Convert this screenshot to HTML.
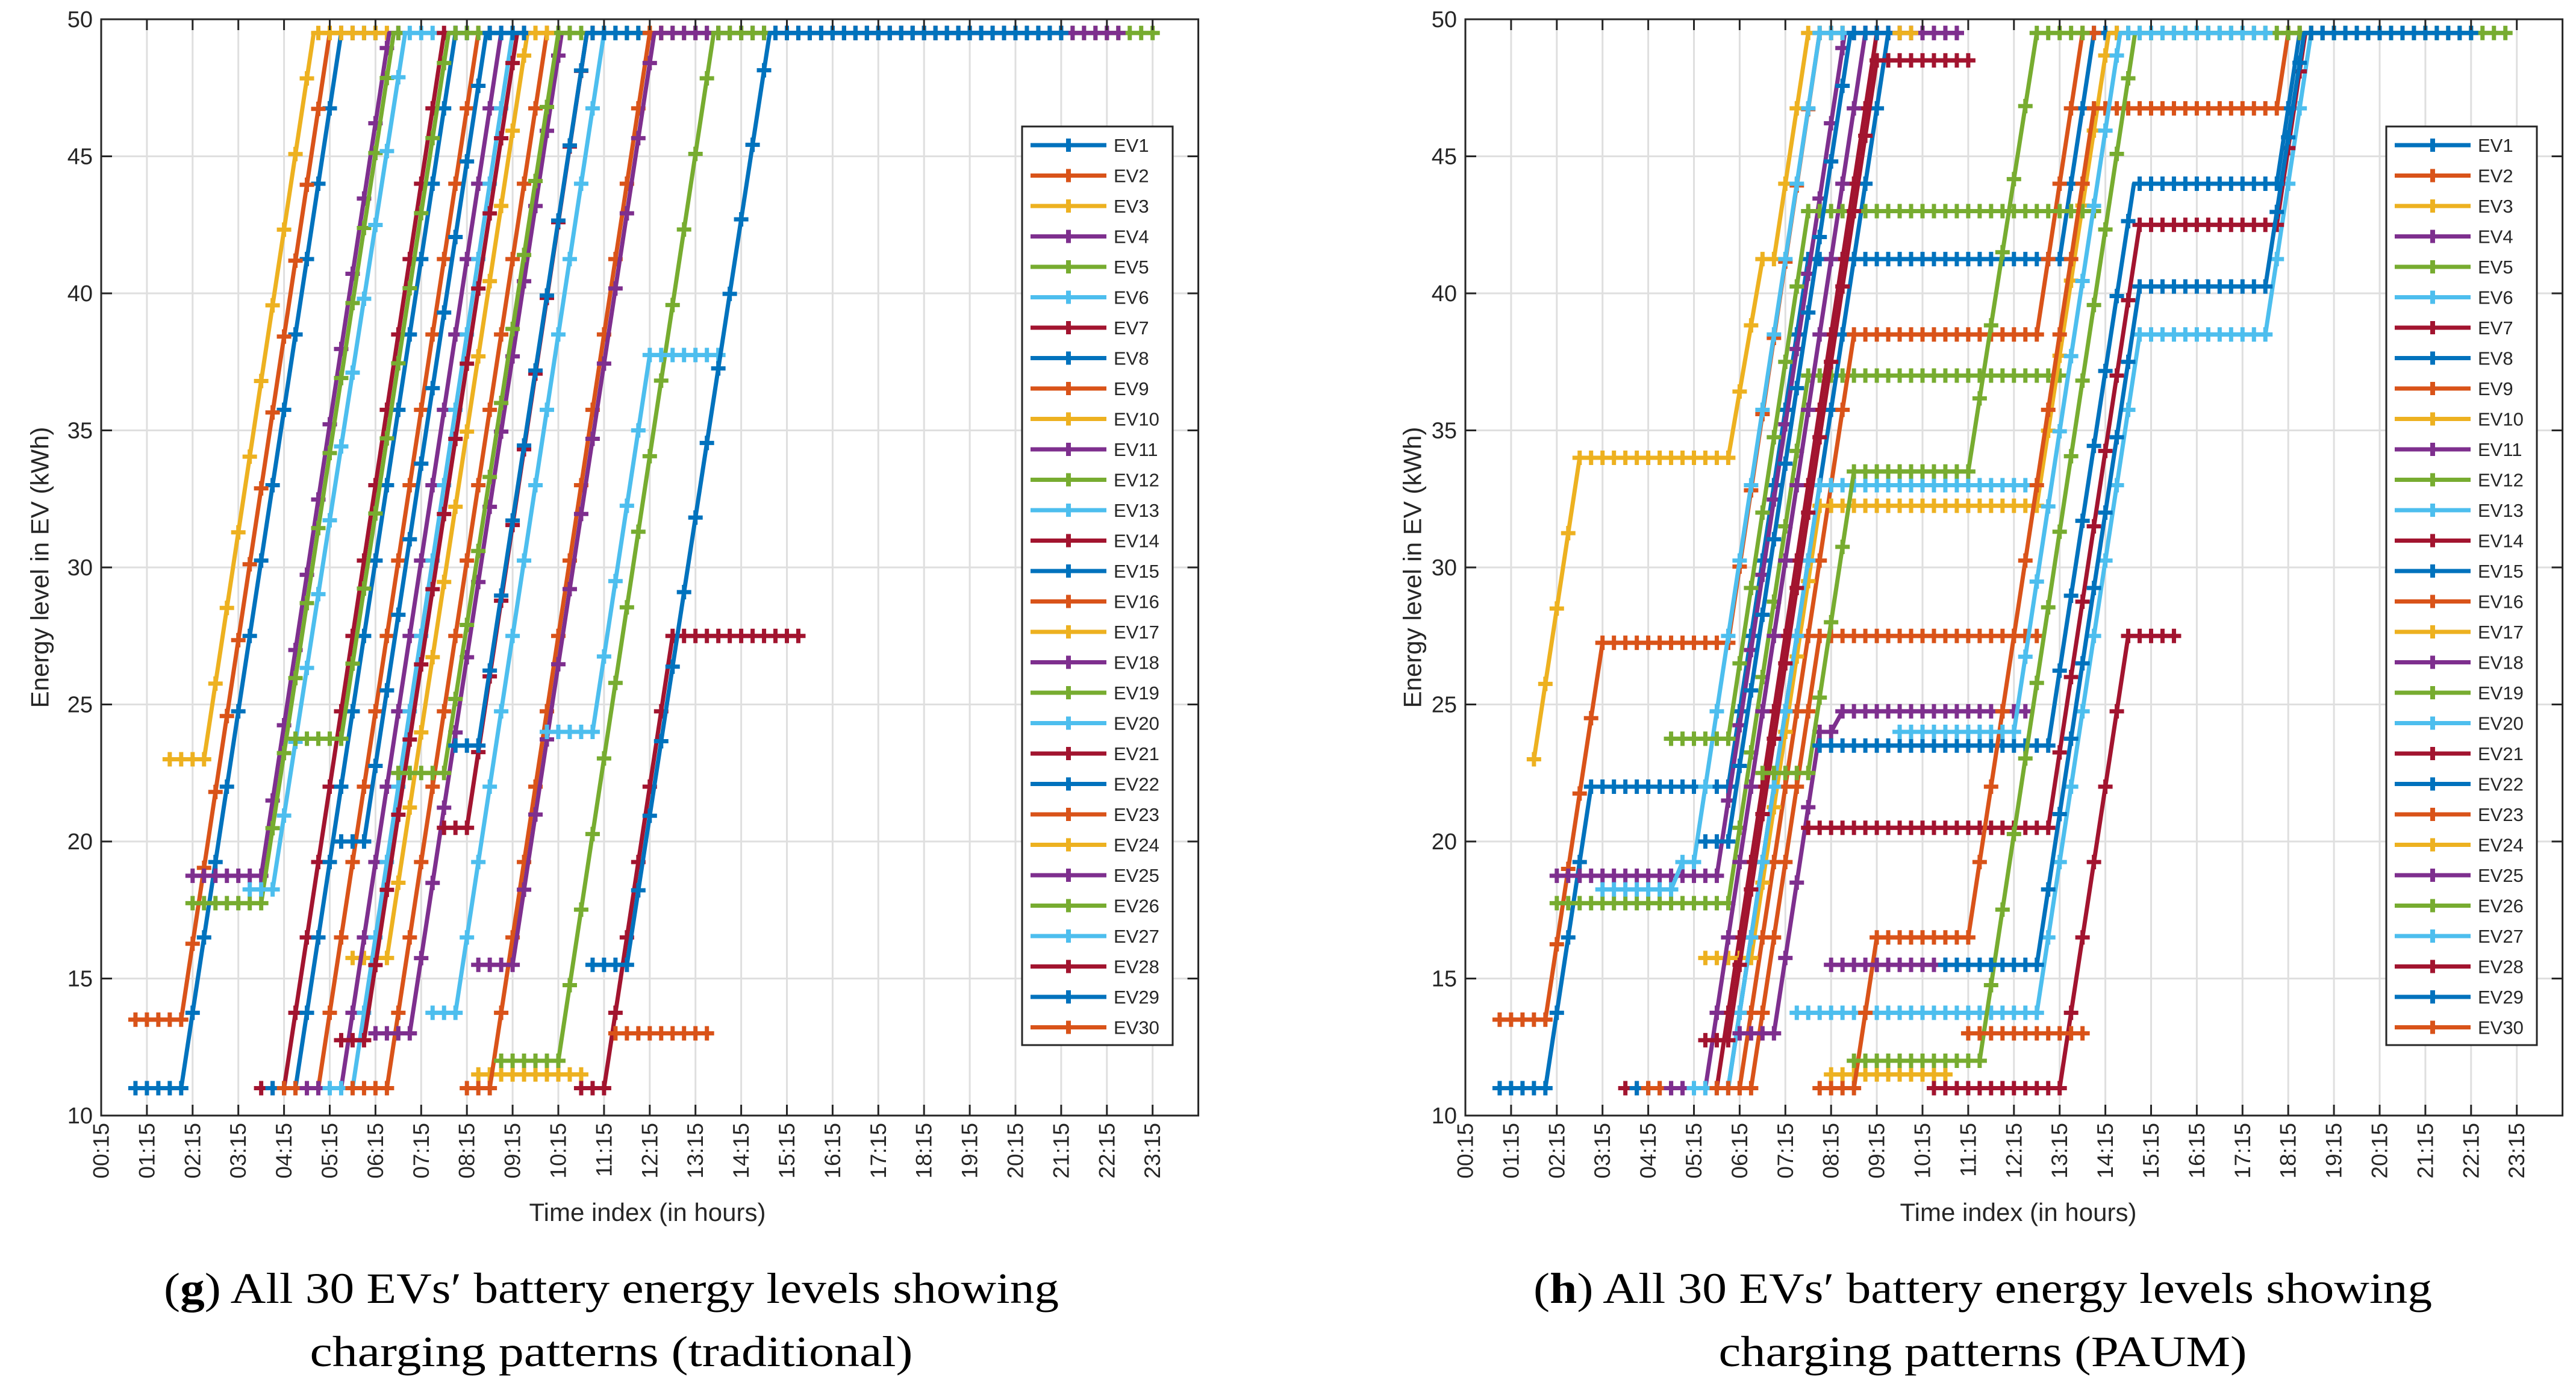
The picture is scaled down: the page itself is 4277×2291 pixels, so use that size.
<!DOCTYPE html>
<html><head><meta charset="utf-8"><style>
html,body{margin:0;padding:0;background:#fff;}
svg{display:block;}
text{font-family:"Liberation Sans",sans-serif;fill:#262626;}
.cap{font-family:"Liberation Serif",serif;fill:#000;}
</style></head><body>
<svg id="root" width="4277" height="2291" viewBox="0 0 4277 2291" xmlns="http://www.w3.org/2000/svg">
<rect width="4277" height="2291" fill="#fff"/>
<g id="plotL"></g>
<g id="plotR"></g>
<text class="cap" x="1015" y="2163" font-size="72" text-anchor="middle" textLength="1486" lengthAdjust="spacingAndGlyphs">(<tspan font-weight="bold">g</tspan>) All 30 EVs′ battery energy levels showing</text>
<text class="cap" x="1015" y="2268" font-size="72" text-anchor="middle" textLength="1001" lengthAdjust="spacingAndGlyphs">charging patterns (traditional)</text>
<text class="cap" x="3292" y="2163" font-size="72" text-anchor="middle" textLength="1492" lengthAdjust="spacingAndGlyphs">(<tspan font-weight="bold">h</tspan>) All 30 EVs′ battery energy levels showing</text>
<text class="cap" x="3292" y="2268" font-size="72" text-anchor="middle" textLength="877" lengthAdjust="spacingAndGlyphs">charging patterns (PAUM)</text>
</svg>
<script>
// x values are quarter-hour indices counted from 00:15; y values are kWh
const timeTickLabels = ["00:15","01:15","02:15","03:15","04:15","05:15","06:15","07:15","08:15","09:15","10:15","11:15","12:15","13:15","14:15","15:15","16:15","17:15","18:15","19:15","20:15","21:15","22:15","23:15"];
const energyTicks = [10,15,20,25,30,35,40,45,50];
const evLabels = ["EV1","EV2","EV3","EV4","EV5","EV6","EV7","EV8","EV9","EV10","EV11","EV12","EV13","EV14","EV15","EV16","EV17","EV18","EV19","EV20","EV21","EV22","EV23","EV24","EV25","EV26","EV27","EV28","EV29","EV30"];
const seriesColors = ["#0072BD","#D95319","#EDB120","#7E2F8E","#77AC30","#4DBEEE","#A2142F"];

// Traditional charging (breakpoints [quarter-hour, kWh])
const trad_EV1 = [[3,11],[7,11],[21,49.5],[24,49.5]];
const trad_EV2 = [[3,13.5],[7,13.5],[20,49.5],[22,49.5]];
const trad_EV3 = [[6,23],[9,23],[18.6,49.5],[25,49.5]];
const trad_EV4 = [[8,18.75],[14,18.75],[25.2,49.5],[26,49.5]];
const trad_EV5 = [[8,17.75],[14,17.75],[25.6,49.5],[26,49.5]];
const trad_EV6 = [[13,18.25],[15,18.25],[26.6,49.5],[29,49.5]];
const trad_EV7 = [[14,11],[16,11],[30,49.5],[31,49.5]];
const trad_EV8 = [[15,11],[17,11],[31,49.5],[32,49.5]];
const trad_EV9 = [[16,11],[19,11],[33,49.5],[34,49.5]];
const trad_EV10 = [[22,15.75],[25,15.75],[37.3,49.5],[39,49.5]];
const trad_EV11 = [[18,11],[21,11],[35,49.5],[36,49.5]];
const trad_EV12 = [[17,23.75],[21,23.75],[30.4,49.5],[33,49.5]];
const trad_EV13 = [[20,11],[22,11],[36,49.5],[37,49.5]];
const trad_EV14 = [[21,12.75],[23,12.75],[36.4,49.5],[37,49.5]];
const trad_EV15 = [[21,20],[23,20],[33.7,49.5],[37,49.5]];
const trad_EV16 = [[22,11],[25,11],[39,49.5],[40,49.5]];
const trad_EV17 = [[33,11.5],[42,11.5]];
const trad_EV18 = [[24,13],[27,13],[40.3,49.5],[41,49.5]];
const trad_EV19 = [[26,22.5],[30,22.5],[40,49.5],[92,49.5]];
const trad_EV20 = [[29,13.75],[31,13.75],[44,49.5],[45,49.5]];
const trad_EV21 = [[30,20.5],[32,20.5],[42.5,49.5],[43,49.5]];
const trad_EV22 = [[31,23.5],[33,23.5],[42.5,49.5],[47,49.5]];
const trad_EV23 = [[32,11],[34,11],[48,49.5],[49,49.5]];
const trad_EV24 = [[38,49.5],[39,49.5]];
const trad_EV25 = [[33,15.5],[36,15.5],[48.4,49.5],[89,49.5]];
const trad_EV26 = [[35,12],[40,12],[53.6,49.5],[58,49.5]];
const trad_EV27 = [[39,24],[43,24],[48,37.75],[54,37.75]];
const trad_EV28 = [[42,11],[44,11],[50,27.5],[61,27.5]];
const trad_EV29 = [[43,15.5],[46,15.5],[58.5,49.5],[84,49.5]];
const trad_EV30 = [[45,13],[53,13]];

// PAUM charging
const paum_EV1 = [[3,11],[7,11],[11,22],[23,22],[30,41.25],[52,41.25],[55,49.5],[58,49.5]];
const paum_EV2 = [[3,13.5],[7,13.5],[12,27.25],[23,27.25],[31,49.5],[33,49.5]];
const paum_EV3 = [[6,23],[10,34],[23,34],[26,41.25],[27,41.25],[30,49.5],[33,49.5]];
const paum_EV4 = [[8,18.75],[22,18.75],[33.2,49.5],[43,49.5]];
const paum_EV5 = [[8,17.75],[23,17.75],[30,37],[52,37]];
const paum_EV6 = [[12,18.25],[18,18.25],[19,19.25],[20,19.25],[31,49.5],[33,49.5]];
const paum_EV7 = [[14,11],[22,11],[36,49.5],[37,49.5]];
const paum_EV8 = [[15,11],[23,11],[37,49.5],[38,49.5]];
const paum_EV9 = [[16,11],[24,11],[34,38.5],[50,38.5],[54,49.5],[55,49.5]];
const paum_EV10 = [[21,15.75],[25,15.75],[31,32.25],[50,32.25],[56.3,49.5],[63,49.5]];
const paum_EV11 = [[18,11],[21,11],[35,49.5],[43,49.5]];
const paum_EV12 = [[18,23.75],[23,23.75],[30,43],[55,43]];
const paum_EV13 = [[20,11],[23,11],[31,33],[49,33]];
const paum_EV14 = [[21,12.75],[23,12.75],[36,48.5],[44,48.5]];
const paum_EV15 = [[21,20],[23,20],[33.7,49.5],[37,49.5]];
const paum_EV16 = [[22,11],[25,11],[31,27.5],[50,27.5]];
const paum_EV17 = [[32,11.5],[42,11.5]];
const paum_EV18 = [[24,13],[27,13],[31,24],[32,24],[33,24.75],[49,24.75]];
const paum_EV19 = [[26,22.5],[30,22.5],[34,33.5],[44,33.5],[50,49.5],[54,49.5]];
const paum_EV20 = [[29,13.75],[50,13.75],[59,38.5],[70,38.5],[74,49.5],[76,49.5]];
const paum_EV21 = [[30,20.5],[51,20.5],[59,42.5],[71,42.5],[73.5,49.5],[75,49.5]];
const paum_EV22 = [[31,23.5],[51,23.5],[58.5,44],[71,44],[73,49.5],[75,49.5]];
const paum_EV23 = [[31,11],[34,11],[36,16.5],[44,16.5],[55,46.75],[71,46.75],[72,49.5],[74,49.5]];
const paum_EV24 = [[38,49.5],[39,49.5]];
const paum_EV25 = [[32,15.5],[42,15.5]];
const paum_EV26 = [[34,12],[45,12],[58.6,49.5],[91,49.5]];
const paum_EV27 = [[38,24],[48,24],[57.3,49.5],[70,49.5]];
const paum_EV28 = [[41,11],[52,11],[58,27.5],[62,27.5]];
const paum_EV29 = [[42,15.5],[50,15.5],[59,40.25],[70,40.25],[73.4,49.5],[88,49.5]];
const paum_EV30 = [[44,13],[54,13]];

const tradSeries = [trad_EV1,trad_EV2,trad_EV3,trad_EV4,trad_EV5,trad_EV6,trad_EV7,trad_EV8,trad_EV9,trad_EV10,trad_EV11,trad_EV12,trad_EV13,trad_EV14,trad_EV15,trad_EV16,trad_EV17,trad_EV18,trad_EV19,trad_EV20,trad_EV21,trad_EV22,trad_EV23,trad_EV24,trad_EV25,trad_EV26,trad_EV27,trad_EV28,trad_EV29,trad_EV30];
const paumSeries = [paum_EV1,paum_EV2,paum_EV3,paum_EV4,paum_EV5,paum_EV6,paum_EV7,paum_EV8,paum_EV9,paum_EV10,paum_EV11,paum_EV12,paum_EV13,paum_EV14,paum_EV15,paum_EV16,paum_EV17,paum_EV18,paum_EV19,paum_EV20,paum_EV21,paum_EV22,paum_EV23,paum_EV24,paum_EV25,paum_EV26,paum_EV27,paum_EV28,paum_EV29,paum_EV30];

const NS = "http://www.w3.org/2000/svg";
function mk(tag, attrs, parent) {
  const el = document.createElementNS(NS, tag);
  for (const k in attrs) el.setAttribute(k, attrs[k]);
  parent.appendChild(el);
  return el;
}

function drawPlot(g, left, series, prefix, ytitleX, xtitleX) {
  const right = left + 24 * 75.9, top = 32, bottom = 1852;
  const xs = q => left + q * 75.9 / 4;
  const ys = e => bottom - (e - 10) * (bottom - top) / 40;
  // grid
  for (let k = 1; k < 24; k++) {
    const l = mk("line", {x1: xs(k*4), x2: xs(k*4), y1: top, y2: bottom, stroke: "#dfdfdf", "stroke-width": 3}, g);
    
    
  }
  energyTicks.forEach(v => {
    if (v === 10 || v === 50) return;
    const l = mk("line", {x1: left, x2: right, y1: ys(v), y2: ys(v), stroke: "#dfdfdf", "stroke-width": 3}, g);
    
    
  });
  // series
  series.forEach((pts, i) => {
    const color = seriesColors[i % 7];
    const sg = mk("g", {}, g);
    
    
    const p = mk("polyline", {points: pts.map(d => xs(d[0]) + "," + ys(d[1])).join(" "), fill: "none", stroke: color, "stroke-width": 7, "stroke-linejoin": "round"}, sg);
    
    
    const q0 = Math.ceil(pts[0][0] - 1e-6), q1 = Math.floor(pts[pts.length - 1][0] + 1e-6);
    let d = "";
    for (let q = q0; q <= q1; q++) {
      let e = pts[pts.length - 1][1];
      for (let j = 0; j < pts.length - 1; j++) {
        if (q >= pts[j][0] && q <= pts[j + 1][0]) {
          const t = (q - pts[j][0]) / ((pts[j + 1][0] - pts[j][0]) || 1);
          e = pts[j][1] + t * (pts[j + 1][1] - pts[j][1]);
          break;
        }
      }
      const cx = xs(q), cy = ys(e);
      d += "M" + (cx - 12) + " " + cy + "H" + (cx + 12) + "M" + cx + " " + (cy - 12) + "V" + (cy + 12);
    }
    const m = mk("path", {d: d, stroke: color, "stroke-width": 7, fill: "none"}, sg);
    
    
  });
  // axes box
  const box = mk("rect", {x: left, y: top, width: right - left, height: bottom - top, fill: "none", stroke: "#262626", "stroke-width": 3}, g);
  
  
  timeTickLabels.forEach((lab, k) => {
    const x = xs(k * 4);
    mk("line", {x1: x, x2: x, y1: bottom, y2: bottom - 18, stroke: "#262626", "stroke-width": 3}, g);
    mk("line", {x1: x, x2: x, y1: top, y2: top + 18, stroke: "#262626", "stroke-width": 3}, g);
    const t = mk("text", {x: x, y: bottom + 12, "font-size": 37, "text-anchor": "end", "dominant-baseline": "central", transform: "rotate(-90 " + x + " " + (bottom + 12) + ")"}, g);
    t.textContent = lab;
    
    
  });
  energyTicks.forEach(v => {
    const y = ys(v);
    mk("line", {x1: left, x2: left + 18, y1: y, y2: y, stroke: "#262626", "stroke-width": 3}, g);
    mk("line", {x1: right, x2: right - 18, y1: y, y2: y, stroke: "#262626", "stroke-width": 3}, g);
    const t = mk("text", {x: left - 14, y: y + 13, "font-size": 38, "text-anchor": "end"}, g);
    t.textContent = v;
    
    
  });
  const xt = mk("text", {x: xtitleX, y: 2027, "font-size": 42, "text-anchor": "middle"}, g);
  xt.textContent = "Time index (in hours)";
  
  
  const yt = mk("text", {x: ytitleX, y: 942, "font-size": 42, "text-anchor": "middle", "dominant-baseline": "central", transform: "rotate(-90 " + ytitleX + " 942)"}, g);
  yt.textContent = "Energy level in EV (kWh)";
  
  
  // legend
  const lx = left + 1529, ly = 210, rowH = 50.5;
  const lg = mk("g", {}, g);
  
  
  mk("rect", {x: lx, y: ly, width: 250, height: 1525, fill: "#fff", stroke: "#262626", "stroke-width": 3}, lg);
  evLabels.forEach((lab, i) => {
    const y = ly + 31 + i * rowH, color = seriesColors[i % 7];
    const eg = mk("g", {}, lg);
    
    
    mk("line", {x1: lx + 14, x2: lx + 140, y1: y, y2: y, stroke: color, "stroke-width": 7}, eg);
    mk("line", {x1: lx + 77, x2: lx + 77, y1: y - 11, y2: y + 11, stroke: color, "stroke-width": 8}, eg);
    const t = mk("text", {x: lx + 152, y: y + 11, "font-size": 31, fill: "#000"}, eg);
    t.textContent = lab;
  });
}
drawPlot(document.getElementById("plotL"), 168, tradSeries, "traditional", 66, 1075);
drawPlot(document.getElementById("plotR"), 2433, paumSeries, "paum", 2345, 3351);
</script>
</body></html>
